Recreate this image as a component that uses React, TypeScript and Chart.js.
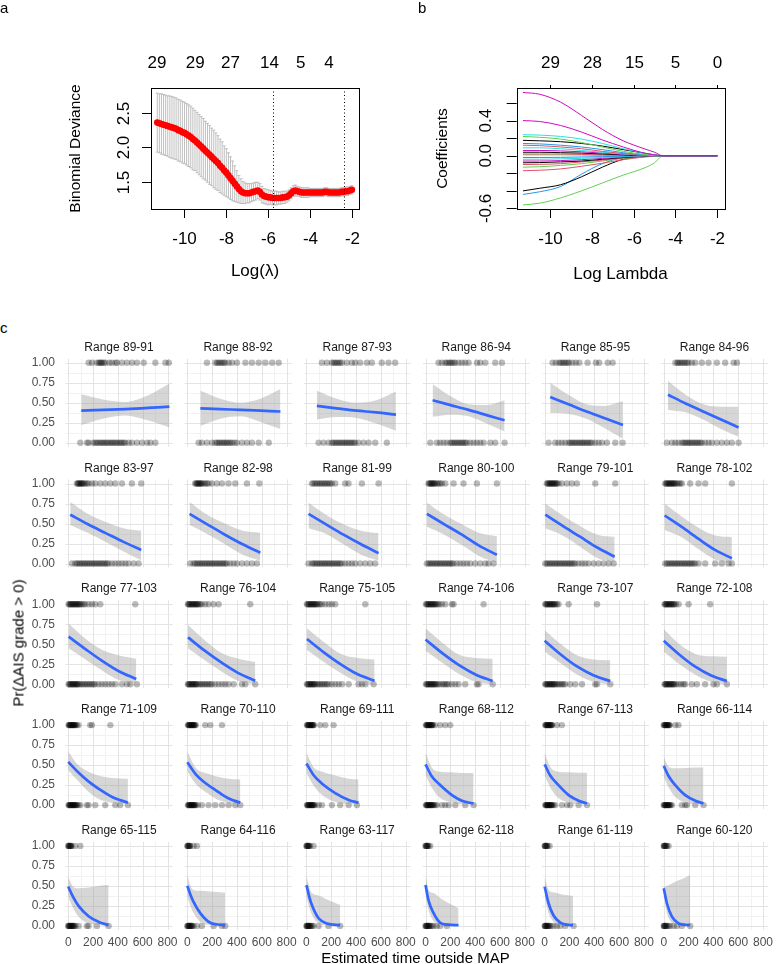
import React, { useEffect, useRef } from "react";
import { Chart, registerables } from "chart.js";

Chart.register(...registerables);

const FONT = "'Liberation Sans', Arial, Helvetica, sans-serif";

/* ---------------- panel a : cross-validated deviance ---------------- */
const cvLogLambda = [
  -11.3, -11.2, -11.1, -11.0, -10.9, -10.8, -10.7, -10.6, -10.5, -10.4,
  -10.3, -10.2, -10.1, -10.0, -9.9, -9.8, -9.7, -9.6, -9.5, -9.4,
  -9.3, -9.2, -9.1, -9.0, -8.9, -8.8, -8.7, -8.6, -8.5, -8.4,
  -8.3, -8.2, -8.1, -8.0, -7.9, -7.8, -7.7, -7.6, -7.5, -7.4,
  -7.3, -7.2, -7.1, -7.0, -6.9, -6.8, -6.7, -6.6, -6.5, -6.4,
  -6.3, -6.2, -6.1, -6.0, -5.9, -5.8, -5.7, -5.6, -5.5, -5.4,
  -5.3, -5.2, -5.1, -5.0, -4.9, -4.8, -4.7, -4.6, -4.5, -4.4,
  -4.3, -4.2, -4.1, -4.0, -3.9, -3.8, -3.7, -3.6, -3.5, -3.4,
  -3.3, -3.2, -3.1, -3.0, -2.9, -2.8, -2.7, -2.6, -2.5, -2.4,
  -2.3, -2.2, -2.1, -2.0,
];
const cvMean = [
  2.36, 2.35, 2.34, 2.33, 2.32, 2.31, 2.30, 2.29, 2.28, 2.27,
  2.25, 2.24, 2.22, 2.21, 2.19, 2.17, 2.15, 2.12, 2.10, 2.07,
  2.04, 2.01, 1.98, 1.95, 1.92, 1.89, 1.86, 1.83, 1.80, 1.77,
  1.73, 1.70, 1.66, 1.63, 1.59, 1.55, 1.51, 1.47, 1.43, 1.39,
  1.36, 1.34, 1.33, 1.33, 1.33, 1.34, 1.35, 1.36, 1.37, 1.35,
  1.31, 1.29, 1.28, 1.27, 1.27, 1.26, 1.26, 1.26, 1.26, 1.26,
  1.27, 1.27, 1.28, 1.30, 1.33, 1.36, 1.37, 1.36, 1.35, 1.34,
  1.34, 1.34, 1.34, 1.34, 1.34, 1.34, 1.34, 1.34, 1.34, 1.34,
  1.35, 1.35, 1.34, 1.34, 1.34, 1.34, 1.34, 1.34, 1.35, 1.35,
  1.36, 1.36, 1.37, 1.38,
];
const cvSe = [
  0.43, 0.43, 0.44, 0.44, 0.44, 0.44, 0.45, 0.45, 0.45, 0.45,
  0.45, 0.45, 0.45, 0.45, 0.45, 0.45, 0.45, 0.45, 0.44, 0.44,
  0.44, 0.44, 0.44, 0.43, 0.43, 0.43, 0.42, 0.42, 0.41, 0.40,
  0.39, 0.38, 0.36, 0.35, 0.33, 0.31, 0.29, 0.26, 0.23, 0.20,
  0.18, 0.16, 0.15, 0.14, 0.14, 0.13, 0.13, 0.13, 0.12, 0.12,
  0.12, 0.11, 0.11, 0.11, 0.10, 0.10, 0.10, 0.10, 0.09, 0.09,
  0.09, 0.09, 0.08, 0.08, 0.08, 0.08, 0.08, 0.07, 0.07, 0.07,
  0.07, 0.07, 0.07, 0.06, 0.06, 0.06, 0.06, 0.06, 0.06, 0.06,
  0.06, 0.06, 0.06, 0.06, 0.06, 0.06, 0.06, 0.06, 0.06, 0.06,
  0.06, 0.06, 0.06, 0.06,
];
const cvTopPos = [-11.31, -9.49, -7.8, -5.94, -4.45, -3.1];
const cvTopLabels = ["29", "29", "27", "14", "5", "4"];
const cvLambdaMarks = [-5.75, -2.39];
const cvXTicks = [-10, -8, -6, -4, -2];
const cvYTicks = [1.5, 2.0, 2.5];

/* ---------------- panel b : coefficient paths ---------------- */
const coefLogLambda = [-11.3, -10.5, -9.5, -8.5, -7.5, -6.5, -5.5, -5.0, -4.6, -4.0, -2.0];
const coefPaths = [
  [0.72, 0.70, 0.61, 0.46, 0.30, 0.17, 0.08, 0.04, 0, 0, 0],
  [0.40, 0.39, 0.345, 0.27, 0.18, 0.10, 0.03, 0.01, 0, 0, 0],
  [0.24, 0.235, 0.22, 0.19, 0.14, 0.08, 0.03, 0.01, 0, 0, 0],
  [0.22, 0.21, 0.19, 0.15, 0.10, 0.05, 0.015, 0, 0, 0, 0],
  [0.175, 0.17, 0.16, 0.14, 0.11, 0.07, 0.03, 0.01, 0, 0, 0],
  [0.14, 0.135, 0.12, 0.10, 0.07, 0.035, 0.01, 0, 0, 0, 0],
  [0.12, 0.115, 0.10, 0.08, 0.05, 0.025, 0.005, 0, 0, 0, 0],
  [0.09, 0.09, 0.08, 0.06, 0.04, 0.02, 0.005, 0, 0, 0, 0],
  [0.06, 0.06, 0.055, 0.045, 0.03, 0.015, 0.005, 0, 0, 0, 0],
  [0.04, 0.04, 0.035, 0.03, 0.02, 0.01, 0, 0, 0, 0, 0],
  [0.02, 0.02, 0.02, 0.015, 0.01, 0.005, 0, 0, 0, 0, 0],
  [0.01, 0.01, 0.01, 0.008, 0.005, 0.002, 0, 0, 0, 0, 0],
  [-0.02, -0.02, -0.018, -0.014, -0.01, -0.005, 0, 0, 0, 0, 0],
  [-0.04, -0.04, -0.035, -0.03, -0.02, -0.01, 0, 0, 0, 0, 0],
  [-0.06, -0.06, -0.055, -0.045, -0.03, -0.015, -0.005, 0, 0, 0, 0],
  [-0.08, -0.078, -0.07, -0.06, -0.04, -0.02, -0.005, 0, 0, 0, 0],
  [-0.10, -0.098, -0.09, -0.07, -0.05, -0.025, -0.008, 0, 0, 0, 0],
  [-0.13, -0.125, -0.11, -0.09, -0.06, -0.03, -0.01, 0, 0, 0, 0],
  [-0.17, -0.165, -0.15, -0.12, -0.085, -0.045, -0.015, -0.005, 0, 0, 0],
  [-0.40, -0.37, -0.33, -0.24, -0.13, -0.04, -0.01, 0, 0, 0, 0],
  [-0.44, -0.41, -0.35, -0.21, -0.09, -0.02, 0, 0, 0, 0, 0],
  [-0.56, -0.54, -0.48, -0.40, -0.31, -0.22, -0.14, -0.08, 0, 0, 0],
];
const coefColors = [
  "#CD0BBC", "#CD0BBC", "#28E2E5", "#61D04F", "#000000", "#2297E6", "#DF536B", "#28E2E5",
  "#CD0BBC", "#000000", "#DF536B", "#61D04F", "#2297E6", "#28E2E5", "#CD0BBC", "#000000",
  "#DF536B", "#61D04F", "#DF536B", "#000000", "#2297E6", "#61D04F",
];
const coefXTicks = [-10, -8, -6, -4, -2];
const coefTopLabels = ["29", "28", "15", "5", "0"];
const coefYTicks = [-0.6, -0.4, -0.2, 0, 0.2, 0.4, 0.6];
const coefYLabelled = [0.4, 0.0, -0.6];

/* ---------------- panel c : logistic fits per MAP range ---------------- */
const rangeLabels = [
  "Range 89-91", "Range 88-92", "Range 87-93", "Range 86-94", "Range 85-95", "Range 84-96",
  "Range 83-97", "Range 82-98", "Range 81-99", "Range 80-100", "Range 79-101", "Range 78-102",
  "Range 77-103", "Range 76-104", "Range 75-105", "Range 74-106", "Range 73-107", "Range 72-108",
  "Range 71-109", "Range 70-110", "Range 69-111", "Range 68-112", "Range 67-113", "Range 66-114",
  "Range 65-115", "Range 64-116", "Range 63-117", "Range 62-118", "Range 61-119", "Range 60-120",
];
const onesX = [
  [164, 191, 230, 245, 255, 265, 272, 285, 299, 330, 352, 380, 393, 433, 473, 514, 554, 608, 702, 783, 810],
  [158, 226, 240, 253, 266, 280, 293, 306, 333, 360, 400, 468, 521, 575, 629, 683, 736],
  [125, 165, 205, 220, 232, 245, 259, 272, 286, 326, 366, 393, 433, 487, 527, 607, 661, 715],
  [105, 132, 159, 172, 186, 199, 212, 226, 239, 266, 293, 320, 347, 414, 441, 481, 562, 616],
  [64, 90, 117, 130, 144, 157, 171, 185, 198, 225, 252, 279, 346, 413, 440, 508, 548],
  [93, 110, 119, 133, 146, 160, 173, 187, 200, 227, 254, 307, 361, 428, 495, 563, 590],
  [70, 77, 83, 90, 97, 103, 110, 117, 124, 137, 150, 164, 191, 218, 258, 298, 339, 379, 433, 513, 588],
  [63, 70, 77, 84, 90, 97, 104, 110, 117, 131, 144, 158, 171, 198, 238, 279, 332, 386, 480, 580],
  [44, 57, 71, 84, 98, 111, 125, 138, 151, 164, 178, 191, 205, 232, 312, 339, 447, 581],
  [24, 31, 38, 44, 51, 58, 64, 71, 78, 91, 105, 118, 132, 159, 226, 306, 414, 575],
  [18, 25, 32, 38, 45, 52, 58, 65, 72, 78, 85, 92, 98, 112, 139, 179, 220, 260, 408, 569],
  [12, 19, 26, 33, 39, 46, 53, 59, 66, 73, 79, 86, 93, 106, 119, 133, 146, 213, 280, 334, 549],
  [3, 10, 16, 23, 30, 36, 43, 50, 56, 63, 70, 76, 83, 90, 97, 110, 124, 137, 164, 191, 218, 258, 540],
  [5, 10, 16, 23, 30, 37, 43, 50, 57, 64, 70, 77, 84, 90, 104, 117, 144, 171, 211, 252, 507],
  [4, 10, 17, 24, 31, 37, 44, 51, 58, 64, 71, 78, 85, 98, 111, 125, 152, 179, 205, 232, 474],
  [3, 10, 17, 24, 30, 37, 44, 51, 57, 64, 71, 78, 84, 98, 111, 132, 159, 213, 226, 468],
  [5, 11, 18, 25, 32, 38, 45, 52, 59, 65, 72, 79, 86, 99, 112, 193, 422],
  [7, 13, 18, 25, 31, 38, 44, 51, 58, 64, 71, 78, 85, 98, 120, 200, 374],
  [3, 7, 11, 15, 19, 23, 27, 31, 35, 39, 43, 47, 51, 55, 59, 70, 83, 177, 191, 339],
  [5, 9, 13, 17, 21, 25, 29, 33, 37, 41, 45, 49, 53, 57, 61, 69, 144, 185, 279],
  [4, 8, 12, 16, 20, 24, 28, 32, 36, 40, 44, 48, 52, 56, 60, 111, 152, 219],
  [3, 7, 11, 15, 19, 23, 27, 31, 35, 39, 43, 47, 51, 55, 59, 78, 119, 159, 199],
  [5, 9, 13, 17, 21, 25, 29, 33, 37, 41, 45, 49, 53, 57, 61, 99, 139],
  [0, 4, 8, 12, 16, 20, 24, 28, 32, 36, 40, 44, 48, 93, 119],
  [0, 3, 7, 11, 15, 19, 23, 27, 56, 97],
  [0, 3, 7, 11, 15, 19, 23, 50, 77],
  [0, 3, 6, 10, 14, 18, 22, 30, 57],
  [0, 3, 6, 10, 14, 18, 24, 38],
  [0, 3, 6, 10, 14, 18, 24, 40],
  [0, 3, 6, 10, 15, 20, 26, 39],
];
const zerosX = [
  [97, 151, 164, 200, 218, 230, 245, 260, 272, 285, 299, 312, 325, 340, 352, 365, 379, 392, 406, 420, 433, 447, 460, 487, 514, 554, 594, 635, 662, 702],
  [91, 118, 158, 199, 226, 240, 253, 266, 280, 293, 306, 319, 333, 346, 360, 380, 400, 441, 481, 521, 575, 656],
  [98, 138, 178, 205, 218, 232, 245, 259, 272, 286, 299, 313, 326, 339, 352, 366, 380, 393, 420, 460, 501, 554, 648],
  [38, 91, 118, 145, 172, 199, 212, 226, 239, 253, 266, 280, 293, 306, 320, 333, 360, 387, 414, 441, 468, 522, 562, 637],
  [32, 85, 112, 139, 166, 193, 207, 220, 233, 247, 260, 274, 287, 301, 314, 327, 341, 354, 368, 381, 408, 435, 462, 502, 569, 628],
  [26, 66, 93, 119, 146, 160, 173, 187, 200, 213, 227, 240, 254, 267, 280, 294, 307, 334, 361, 388, 428, 468, 509, 549, 603],
  [30, 56, 70, 83, 97, 110, 124, 137, 150, 164, 177, 191, 204, 218, 231, 245, 258, 271, 285, 298, 312, 325, 352, 379, 406, 433, 460, 486, 527, 567],
  [23, 50, 63, 77, 90, 104, 117, 131, 144, 158, 171, 184, 198, 211, 225, 238, 252, 265, 279, 292, 305, 319, 346, 373, 400, 440, 480, 521, 561],
  [17, 44, 57, 71, 84, 98, 111, 125, 138, 151, 164, 178, 191, 205, 218, 232, 245, 259, 272, 285, 312, 339, 366, 393, 433, 474, 514, 554],
  [11, 25, 38, 51, 64, 78, 91, 104, 118, 131, 145, 158, 172, 185, 199, 212, 226, 253, 280, 306, 333, 360, 400, 441, 481, 508, 548],
  [5, 18, 32, 45, 58, 72, 85, 98, 112, 125, 139, 152, 166, 179, 193, 206, 220, 233, 247, 274, 301, 327, 354, 395, 435, 475, 516, 556],
  [12, 26, 39, 53, 66, 79, 93, 106, 119, 133, 146, 160, 173, 186, 200, 213, 227, 240, 254, 280, 334, 415, 468, 522, 549],
  [3, 10, 16, 23, 30, 36, 43, 50, 56, 63, 70, 76, 83, 97, 110, 124, 137, 150, 164, 177, 191, 204, 218, 245, 271, 298, 325, 352, 379, 433, 473, 500, 553],
  [5, 10, 16, 23, 30, 37, 43, 50, 57, 64, 70, 77, 90, 104, 117, 130, 144, 158, 171, 185, 198, 225, 252, 279, 305, 332, 373, 440, 467, 547],
  [4, 10, 17, 24, 31, 37, 44, 51, 58, 64, 71, 85, 98, 111, 125, 138, 152, 165, 179, 205, 232, 259, 286, 340, 420, 447, 474, 541],
  [3, 10, 17, 24, 30, 37, 44, 51, 57, 64, 71, 78, 84, 98, 111, 132, 145, 159, 172, 186, 213, 240, 266, 320, 414, 427, 541],
  [5, 11, 18, 25, 32, 38, 45, 52, 59, 65, 72, 79, 86, 99, 112, 125, 139, 152, 166, 206, 247, 301, 408, 422, 529],
  [7, 13, 18, 25, 31, 38, 44, 51, 58, 64, 71, 78, 85, 98, 120, 140, 160, 173, 227, 267, 334, 401, 428, 509],
  [3, 7, 11, 15, 19, 23, 27, 31, 35, 39, 43, 47, 51, 55, 59, 65, 70, 83, 97, 150, 164, 218, 298, 379, 419, 481],
  [5, 9, 13, 17, 21, 25, 29, 33, 37, 41, 45, 49, 53, 57, 61, 69, 85, 117, 171, 225, 279, 333, 386, 427],
  [4, 8, 12, 16, 20, 24, 28, 32, 36, 40, 44, 48, 52, 56, 60, 71, 98, 125, 205, 272, 340, 407],
  [3, 7, 11, 15, 19, 23, 27, 31, 35, 39, 43, 47, 51, 55, 59, 67, 78, 91, 132, 159, 186, 240, 320, 387],
  [5, 9, 13, 17, 21, 25, 29, 33, 37, 41, 45, 49, 53, 57, 61, 72, 85, 139, 180, 207, 274, 341],
  [0, 4, 8, 12, 16, 20, 24, 28, 32, 36, 40, 44, 48, 56, 66, 146, 173, 186, 254, 321],
  [0, 3, 7, 11, 15, 19, 23, 27, 31, 35, 39, 43, 51, 59, 83, 150, 164, 231, 325],
  [0, 3, 7, 11, 15, 19, 23, 27, 31, 35, 39, 50, 77, 117, 212, 279, 305],
  [0, 3, 6, 10, 14, 18, 22, 26, 30, 38, 46, 57, 98, 178, 272],
  [0, 3, 6, 10, 14, 18, 24, 28, 32, 40, 51, 65, 91, 118, 172],
  [0, 3, 6, 10, 14, 18, 24, 28, 32, 40, 50, 72, 99, 126, 166, 233],
  [0, 3, 6, 10, 15, 20, 26, 39, 52, 79, 106, 146, 213],
];
const smoothX = [
  [105, 280, 460, 640, 815], [105, 266, 428, 589, 750], [84, 243, 402, 562, 721],
  [57, 202, 347, 492, 637], [45, 192, 338, 485, 631], [34, 176, 318, 461, 603],
  [16, 159, 302, 445, 588], [18, 160, 303, 446, 588], [17, 158, 299, 440, 581],
  [11, 152, 293, 434, 575], [5, 145, 285, 424, 564], [7, 142, 278, 413, 549],
  [3, 139, 276, 412, 548], [5, 140, 276, 411, 547], [4, 140, 277, 413, 549],
  [0, 135, 270, 406, 541], [0, 132, 264, 397, 529], [0, 127, 254, 382, 509],
  [0, 80, 160, 240, 350, 481], [0, 70, 150, 230, 330, 427], [0, 60, 124, 232, 340, 420],
  [0, 50, 105, 213, 293, 387], [0, 45, 99, 193, 274, 341], [0, 40, 93, 173, 254, 320],
  [0, 40, 83, 164, 245, 325], [0, 25, 50, 104, 185, 305], [0, 22, 44, 98, 165, 272],
  [0, 24, 65, 118, 180, 266], [0, 32, 72, 126, 175, 229], [0, 26, 66, 120, 165, 213],
];
const fitY = [
  [0.40, 0.41, 0.42, 0.435, 0.45], [0.43, 0.42, 0.41, 0.40, 0.39], [0.46, 0.43, 0.40, 0.38, 0.35],
  [0.53, 0.47, 0.41, 0.345, 0.28], [0.57, 0.48, 0.39, 0.305, 0.22], [0.60, 0.49, 0.39, 0.29, 0.19],
  [0.61, 0.49, 0.38, 0.27, 0.17], [0.62, 0.49, 0.36, 0.24, 0.135], [0.62, 0.49, 0.36, 0.24, 0.13],
  [0.62, 0.49, 0.36, 0.22, 0.11], [0.61, 0.47, 0.335, 0.20, 0.085], [0.60, 0.46, 0.31, 0.17, 0.065],
  [0.595, 0.44, 0.29, 0.16, 0.066], [0.587, 0.42, 0.27, 0.14, 0.045], [0.566, 0.40, 0.25, 0.125, 0.045],
  [0.56, 0.39, 0.24, 0.12, 0.04], [0.545, 0.37, 0.22, 0.11, 0.04], [0.545, 0.37, 0.22, 0.11, 0.04],
  [0.54, 0.41, 0.30, 0.21, 0.105, 0.03], [0.535, 0.38, 0.27, 0.185, 0.085, 0.03], [0.52, 0.37, 0.27, 0.15, 0.065, 0.03],
  [0.51, 0.36, 0.27, 0.125, 0.055, 0.02], [0.51, 0.37, 0.27, 0.125, 0.055, 0.02], [0.49, 0.36, 0.25, 0.125, 0.055, 0.02],
  [0.49, 0.36, 0.25, 0.12, 0.05, 0.01], [0.50, 0.39, 0.30, 0.16, 0.04, 0.01], [0.51, 0.37, 0.26, 0.095, 0.03, 0.01],
  [0.51, 0.32, 0.16, 0.04, 0.015, 0.01], [0.49, 0.28, 0.13, 0.04, 0.015, 0.01], [0.47, 0.28, 0.115, 0.03, 0.015, 0.01],
];
const loY = [
  [0.22, 0.30, 0.34, 0.28, 0.19], [0.21, 0.30, 0.33, 0.26, 0.17], [0.29, 0.32, 0.31, 0.24, 0.15],
  [0.325, 0.35, 0.33, 0.24, 0.14], [0.37, 0.36, 0.30, 0.18, 0.05], [0.41, 0.38, 0.29, 0.17, 0.075],
  [0.48, 0.38, 0.27, 0.15, 0.04], [0.48, 0.37, 0.24, 0.11, 0.035], [0.44, 0.37, 0.24, 0.11, 0.035],
  [0.46, 0.36, 0.23, 0.09, 0.01], [0.44, 0.35, 0.21, 0.07, 0.01], [0.42, 0.33, 0.18, 0.05, 0.0],
  [0.45, 0.31, 0.17, 0.05, 0.01], [0.45, 0.30, 0.16, 0.04, 0.0], [0.43, 0.28, 0.14, 0.03, 0.0],
  [0.42, 0.27, 0.13, 0.03, 0.0], [0.41, 0.26, 0.12, 0.03, 0.0], [0.41, 0.25, 0.12, 0.03, 0.0],
  [0.44, 0.30, 0.17, 0.08, 0.03, 0.01], [0.42, 0.26, 0.16, 0.08, 0.025, 0.01], [0.40, 0.24, 0.13, 0.04, 0.015, 0.01],
  [0.38, 0.22, 0.105, 0.03, 0.01, 0.01], [0.37, 0.22, 0.105, 0.03, 0.01, 0.01], [0.355, 0.22, 0.10, 0.03, 0.01, 0.01],
  [0.365, 0.22, 0.115, 0.03, 0.01, 0.0], [0.365, 0.25, 0.16, 0.05, 0.01, 0.0], [0.365, 0.24, 0.14, 0.03, 0.005, 0.0],
  [0.385, 0.20, 0.06, 0.01, 0.0, 0.0], [0.365, 0.16, 0.05, 0.01, 0.0, 0.0], [0.41, 0.16, 0.04, 0.005, 0.0, 0.0],
];
const hiY = [
  [0.605, 0.54, 0.51, 0.59, 0.74], [0.65, 0.55, 0.50, 0.55, 0.67], [0.65, 0.55, 0.50, 0.53, 0.64],
  [0.73, 0.58, 0.48, 0.47, 0.53], [0.75, 0.60, 0.48, 0.46, 0.52], [0.77, 0.60, 0.48, 0.45, 0.45],
  [0.77, 0.62, 0.52, 0.44, 0.41], [0.77, 0.61, 0.50, 0.41, 0.385], [0.76, 0.61, 0.49, 0.41, 0.38],
  [0.76, 0.61, 0.49, 0.38, 0.34], [0.75, 0.60, 0.47, 0.36, 0.335], [0.75, 0.59, 0.45, 0.35, 0.33],
  [0.76, 0.57, 0.43, 0.36, 0.32], [0.74, 0.55, 0.39, 0.32, 0.28], [0.70, 0.53, 0.38, 0.33, 0.31],
  [0.70, 0.52, 0.37, 0.33, 0.32], [0.68, 0.50, 0.36, 0.31, 0.30], [0.69, 0.50, 0.38, 0.35, 0.345],
  [0.67, 0.50, 0.42, 0.37, 0.34, 0.33], [0.67, 0.46, 0.40, 0.36, 0.33, 0.32], [0.655, 0.47, 0.42, 0.37, 0.33, 0.32],
  [0.65, 0.47, 0.42, 0.41, 0.40, 0.40], [0.65, 0.48, 0.42, 0.41, 0.405, 0.405], [0.60, 0.48, 0.46, 0.465, 0.47, 0.47],
  [0.615, 0.49, 0.47, 0.48, 0.50, 0.51], [0.635, 0.50, 0.45, 0.44, 0.43, 0.415], [0.635, 0.49, 0.41, 0.38, 0.33, 0.26],
  [0.635, 0.45, 0.41, 0.35, 0.29, 0.22], [0.615, 0.45, 0.42, 0.40, 0.385, 0.375], [0.49, 0.50, 0.53, 0.57, 0.60, 0.635],
];
const timeTicks = [0, 200, 400, 600, 800];
const timeMinor = [100, 300, 500, 700];
const probTicks = [0, 0.25, 0.5, 0.75, 1];
const probMinor = [0.125, 0.375, 0.625, 0.875];

/* ---------------- helpers ---------------- */
function rotText(ctx: CanvasRenderingContext2D, s: string, x: number, y: number) {
  ctx.save();
  ctx.translate(x, y);
  ctx.rotate(-Math.PI / 2);
  ctx.textAlign = "center";
  ctx.textBaseline = "middle";
  ctx.fillText(s, 0, 0);
  ctx.restore();
}
function seg(ctx: CanvasRenderingContext2D, x1: number, y1: number, x2: number, y2: number) {
  ctx.beginPath();
  ctx.moveTo(x1, y1);
  ctx.lineTo(x2, y2);
  ctx.stroke();
}
const baseOpts = (padding: any, xr: number[], yr: number[]) => ({
  animation: false as const,
  responsive: false,
  devicePixelRatio: 1,
  events: [] as any[],
  layout: { padding },
  plugins: { legend: { display: false }, tooltip: { enabled: false }, title: { display: false } },
  scales: {
    x: { type: "linear" as const, min: xr[0], max: xr[1], display: false },
    y: { type: "linear" as const, min: yr[0], max: yr[1], display: false },
  },
});

/* ---------------- panel a ---------------- */
const cvPlugin = {
  id: "cvDecor",
  beforeDatasetsDraw(chart: any) {
    const { ctx, scales } = chart;
    const x = scales.x, y = scales.y;
    ctx.save();
    ctx.strokeStyle = "#B8B8B8";
    ctx.lineWidth = 0.9;
    cvLogLambda.forEach((lx, i) => {
      const px = x.getPixelForValue(lx);
      const yt = y.getPixelForValue(cvMean[i] + cvSe[i]);
      const yb = y.getPixelForValue(cvMean[i] - cvSe[i]);
      ctx.beginPath();
      ctx.moveTo(px, yt); ctx.lineTo(px, yb);
      ctx.moveTo(px - 1.5, yt); ctx.lineTo(px + 1.5, yt);
      ctx.moveTo(px - 1.5, yb); ctx.lineTo(px + 1.5, yb);
      ctx.stroke();
    });
    ctx.restore();
  },
  afterDraw(chart: any) {
    const { ctx, chartArea: a, scales } = chart;
    const x = scales.x, y = scales.y;
    ctx.save();
    ctx.strokeStyle = "#000";
    ctx.fillStyle = "#000";
    ctx.lineWidth = 1;
    ctx.setLineDash([1, 2.5]);
    cvLambdaMarks.forEach((v) => {
      const px = Math.round(x.getPixelForValue(v)) + 0.5;
      seg(ctx, px, a.top, px, a.bottom);
    });
    ctx.setLineDash([]);
    ctx.strokeRect(Math.round(a.left) + 0.5, Math.round(a.top) + 0.5, Math.round(a.right - a.left), Math.round(a.bottom - a.top));
    ctx.font = `17px ${FONT}`;
    ctx.textAlign = "center";
    ctx.textBaseline = "alphabetic";
    cvXTicks.forEach((v) => {
      const px = Math.round(x.getPixelForValue(v)) + 0.5;
      seg(ctx, px, a.bottom, px, a.bottom + 9);
      ctx.fillText(String(v), px, a.bottom + 34.5);
    });
    cvTopPos.forEach((v, i) => ctx.fillText(cvTopLabels[i], x.getPixelForValue(v), a.top - 20));
    cvYTicks.forEach((v) => {
      const py = Math.round(y.getPixelForValue(v)) + 0.5;
      seg(ctx, a.left - 9, py, a.left, py);
      rotText(ctx, v.toFixed(1), a.left - 26.5, py);
    });
    ctx.fillText("Log(\u03bb)", (a.left + a.right) / 2, 275.5);
    ctx.font = `15.5px ${FONT}`;
    rotText(ctx, "Binomial Deviance", a.left - 75, (a.top + a.bottom) / 2);
    ctx.font = `15px ${FONT}`;
    ctx.textAlign = "left";
    ctx.fillText("a", 0, 13);
    ctx.restore();
  },
};

function CvPanel() {
  const ref = useRef<HTMLCanvasElement>(null);
  useEffect(() => {
    const W = 380, H = 292;
    const chart = new Chart(ref.current!, {
      type: "line",
      data: {
        datasets: [
          {
            data: cvLogLambda.map((lx, i) => ({ x: lx, y: cvMean[i] })),
            showLine: false,
            pointRadius: 3.3,
            pointBackgroundColor: "#FF0000",
            pointBorderWidth: 0,
            borderColor: "rgba(0,0,0,0)",
          },
        ],
      },
      options: baseOpts({ left: 151, top: 88, right: W - 359, bottom: H - 209 }, [-11.6, -1.66], [1.1, 2.865]) as any,
      plugins: [cvPlugin],
    });
    return () => chart.destroy();
  }, []);
  return <canvas ref={ref} width={380} height={292} style={{ position: "absolute", left: 0, top: 0, width: 380, height: 292 }} />;
}

/* ---------------- panel b ---------------- */
const coefPlugin = {
  id: "coefDecor",
  afterDraw(chart: any) {
    const { ctx, chartArea: a, scales } = chart;
    const x = scales.x, y = scales.y;
    ctx.save();
    ctx.strokeStyle = "#000";
    ctx.fillStyle = "#000";
    ctx.lineWidth = 1;
    ctx.strokeRect(Math.round(a.left) + 0.5, Math.round(a.top) + 0.5, Math.round(a.right - a.left), Math.round(a.bottom - a.top));
    ctx.font = `17px ${FONT}`;
    ctx.textAlign = "center";
    ctx.textBaseline = "alphabetic";
    coefXTicks.forEach((v, i) => {
      const px = Math.round(x.getPixelForValue(v)) + 0.5;
      seg(ctx, px, a.bottom, px, a.bottom + 9);
      ctx.fillText(String(v), px, a.bottom + 34.5);
      seg(ctx, px, a.top - 3, px, a.top);
      ctx.fillText(coefTopLabels[i], px, a.top - 20);
    });
    coefYTicks.forEach((v) => {
      const py = Math.round(y.getPixelForValue(v)) + 0.5;
      seg(ctx, a.left - 10, py, a.left, py);
    });
    coefYLabelled.forEach((v) => {
      rotText(ctx, v.toFixed(1), a.left - 30.5, y.getPixelForValue(v));
    });
    ctx.fillText("Log Lambda", (a.left + a.right) / 2, 279);
    ctx.font = `15.5px ${FONT}`;
    rotText(ctx, "Coefficients", a.left - 74, (a.top + a.bottom) / 2);
    ctx.font = `15px ${FONT}`;
    ctx.textAlign = "left";
    ctx.fillText("b", 38, 13);
    ctx.restore();
  },
};

function CoefPanel() {
  const ref = useRef<HTMLCanvasElement>(null);
  useEffect(() => {
    const W = 396, H = 292;
    const chart = new Chart(ref.current!, {
      type: "line",
      data: {
        datasets: coefPaths.map((path, k) => ({
          data: coefLogLambda.map((lx, i) => ({ x: lx, y: path[i] })),
          borderColor: coefColors[k],
          borderWidth: 1,
          pointRadius: 0,
          cubicInterpolationMode: "monotone" as const,
          fill: false,
        })),
      },
      options: baseOpts({ left: 136.7, top: 88, right: W - 344.3, bottom: H - 209 }, [-11.6, -1.66], [-0.606, 0.771]) as any,
      plugins: [coefPlugin],
    });
    return () => chart.destroy();
  }, []);
  return <canvas ref={ref} width={396} height={292} style={{ position: "absolute", left: 380, top: 0, width: 396, height: 292 }} />;
}

/* ---------------- panel c ---------------- */
const facetPlugin = {
  id: "facetDecor",
  beforeDatasetsDraw(chart: any) {
    const { ctx, chartArea: a, scales } = chart;
    const x = scales.x, y = scales.y;
    ctx.save();
    ctx.lineWidth = 1;
    ctx.strokeStyle = "#F2F2F2";
    timeMinor.forEach((v) => { const p = Math.round(x.getPixelForValue(v)) + 0.5; seg(ctx, p, a.top, p, a.bottom); });
    probMinor.forEach((v) => { const p = Math.round(y.getPixelForValue(v)) + 0.5; seg(ctx, a.left, p, a.right, p); });
    ctx.strokeStyle = "#E3E3E3";
    timeTicks.forEach((v) => { const p = Math.round(x.getPixelForValue(v)) + 0.5; seg(ctx, p, a.top, p, a.bottom); });
    probTicks.forEach((v) => { const p = Math.round(y.getPixelForValue(v)) + 0.5; seg(ctx, a.left, p, a.right, p); });
    ctx.restore();
  },
  afterDraw(chart: any) {
    const { ctx, chartArea: a, scales } = chart;
    const x = scales.x, y = scales.y;
    const o = chart.options.plugins.facetDecor;
    ctx.save();
    ctx.font = `12px ${FONT}`;
    ctx.fillStyle = "#1A1A1A";
    ctx.textAlign = "center";
    ctx.textBaseline = "alphabetic";
    ctx.fillText(o.title, (a.left + a.right) / 2, a.top - 8);
    ctx.fillStyle = "#4D4D4D";
    if (o.showY) {
      ctx.textAlign = "right";
      ctx.textBaseline = "middle";
      probTicks.forEach((v) => ctx.fillText(v.toFixed(2), a.left - 10.5, y.getPixelForValue(v)));
    }
    if (o.showX) {
      ctx.textAlign = "center";
      ctx.textBaseline = "alphabetic";
      timeTicks.forEach((v) => ctx.fillText(String(v), x.getPixelForValue(v), a.bottom + 16));
    }
    ctx.restore();
  },
};

function Facet({ idx }: { idx: number }) {
  const ref = useRef<HTMLCanvasElement>(null);
  const r = Math.floor(idx / 6), c = idx % 6;
  const pl = 65.5 + c * 119.1, pt = 358.7 + r * 120.8, pw = 107, ph = 88;
  const cl = Math.floor(pl) - 50, ct = Math.floor(pt) - 22;
  const cw = 170, ch = 145;
  useEffect(() => {
    const pad = { left: pl - cl, top: pt - ct, right: cw - (pl - cl) - pw, bottom: ch - (pt - ct) - ph };
    const opts: any = baseOpts(pad, [-22, 840], [-0.05, 1.05]);
    opts.plugins.facetDecor = { title: rangeLabels[idx], showY: c === 0, showX: r === 4 };
    const line = (vals: number[]) => smoothX[idx].map((sx, j) => ({ x: sx, y: vals[j] }));
    const chart = new Chart(ref.current!, {
      type: "line",
      data: {
        datasets: [
          { data: line(fitY[idx]), borderColor: "#3366FF", borderWidth: 2.7, pointRadius: 0, cubicInterpolationMode: "monotone", fill: false },
          { data: line(hiY[idx]), borderColor: "rgba(0,0,0,0)", borderWidth: 0, pointRadius: 0, cubicInterpolationMode: "monotone", fill: "+1", backgroundColor: "rgba(153,153,153,0.4)" },
          { data: line(loY[idx]), borderColor: "rgba(0,0,0,0)", borderWidth: 0, pointRadius: 0, cubicInterpolationMode: "monotone", fill: false },
          {
            data: [...onesX[idx].map((v) => ({ x: v, y: 1 })), ...zerosX[idx].map((v) => ({ x: v, y: 0 }))],
            showLine: false,
            pointRadius: 3.2,
            pointBackgroundColor: "rgba(0,0,0,0.27)",
            pointBorderWidth: 0,
            borderColor: "rgba(0,0,0,0)",
            clip: false,
          },
        ] as any,
      },
      options: opts,
      plugins: [facetPlugin],
    });
    return () => chart.destroy();
  }, [idx]);
  return <canvas ref={ref} width={cw} height={ch} style={{ position: "absolute", left: cl, top: ct, width: cw, height: ch }} />;
}

export default function App() {
  return (
    <div style={{ position: "absolute", left: 0, top: 0, width: 776, height: 964, background: "#fff", overflow: "hidden", fontFamily: FONT, color: "#000" }}>
      <CvPanel />
      <CoefPanel />
      {rangeLabels.map((_, i) => (
        <Facet key={i} idx={i} />
      ))}
      <div style={{ position: "absolute", left: 0, top: 319.5, fontSize: 15, lineHeight: "15px" }}>c</div>
      <div style={{ position: "absolute", left: 415.5, top: 949.8, fontSize: 15, lineHeight: "15px", whiteSpace: "nowrap", transform: "translateX(-50%)" }}>
        Estimated time outside MAP
      </div>
      <div style={{ position: "absolute", left: 18, top: 643, fontSize: 15, lineHeight: "15px", whiteSpace: "nowrap", transform: "translate(-50%,-50%) rotate(-90deg)" }}>
        Pr(ΔAIS grade &gt; 0)
      </div>
    </div>
  );
}
